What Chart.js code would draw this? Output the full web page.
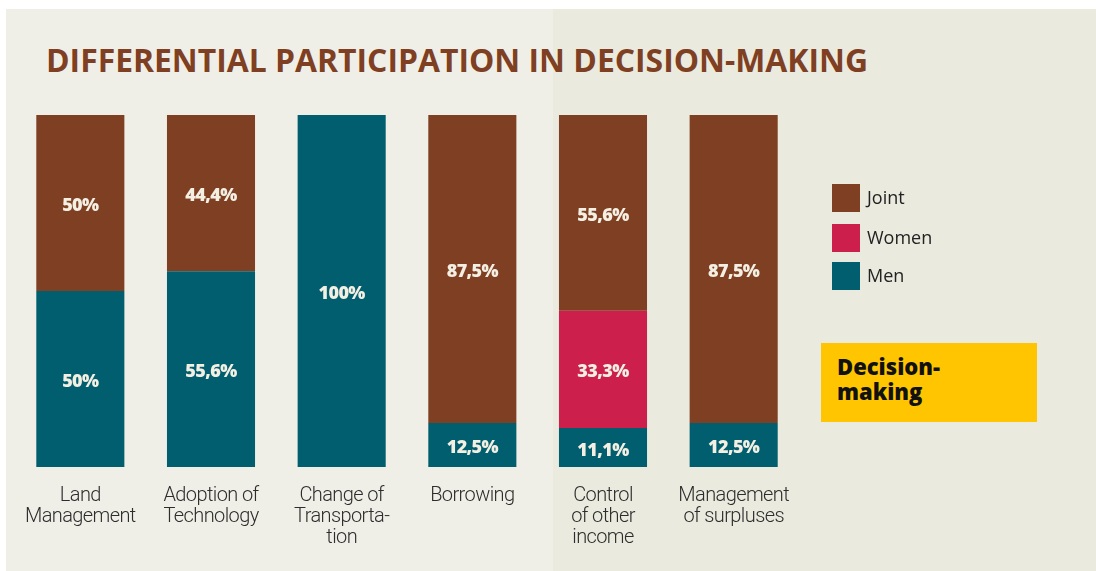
<!DOCTYPE html>
<html>
<head>
<meta charset="utf-8">
<script src="https://cdn.jsdelivr.net/npm/chart.js@4.4.1/dist/chart.umd.min.js"></script>
<style>
  html, body { margin: 0; padding: 0; background: #ffffff; }
  #wrap { position: relative; width: 1096px; height: 571px; overflow: hidden; }
  #panelL { position: absolute; left: 6px; top: 9px; width: 547px; height: 562px; background: #f0efe7; }
  #panelR { position: absolute; left: 553px; top: 9px; width: 543px; height: 562px; background: #ebeadf; }
  #title { position: absolute; left: 46px; top: 40px; font-family: "Open Sans", sans-serif; font-weight: 700;
           font-size: 33px; color: #7f3f22; white-space: nowrap; transform-origin: 0 0; line-height: 40px; }
  #legend { position: absolute; left: 832px; top: 184px; font-family: "Open Sans", sans-serif; font-size: 18px; color: #222; }
  .li { position: absolute; left: 0; width: 200px; height: 28px; }
  .sw { position: absolute; left: 0; top: 0; width: 28px; height: 28px; }
  .lt { position: absolute; left: 35px; top: 0px; line-height: 26px; }
  #dm { position: absolute; left: 821px; top: 343px; width: 216px; height: 79px; background: #ffc600; }
  #dmt { position: absolute; left: 16px; top: 11px; font-family: "Open Sans", sans-serif; font-weight: 800; font-size: 22px;
         line-height: 25px; color: #111; }
  canvas { position: absolute; left: 0; top: 0; }
</style>
</head>
<body>
<div id="wrap">
  <div id="panelL"></div>
  <div id="panelR"></div>
  <div id="title"><span id="tspan">DIFFERENTIAL PARTICIPATION IN DECISION-MAKING</span></div>
  <canvas id="c" width="1096" height="571"></canvas>
  <div id="legend"></div>
  <div id="dm"><div id="dmt">Decision-<br>making</div></div>
</div>
<script>
const categories = [
  ['Land', 'Management'],
  ['Adoption of', 'Technology'],
  ['Change of', 'Transporta-', 'tion'],
  ['Borrowing'],
  ['Control', 'of other', 'income'],
  ['Management', 'of surpluses']
];
const menValues   = [50, 55.6, 100, 12.5, 11.1, 12.5];
const womenValues = [0, 0, 0, 0, 33.3, 0];
const jointValues = [50, 44.4, 0, 87.5, 55.6, 87.5];
const seriesNames = ['Men', 'Women', 'Joint'];
const seriesColors = ['#015e6e', '#cc1f4b', '#7f3f22'];

// title width fit
(function(){
  const t = document.getElementById('title');
  const w = t.getBoundingClientRect().width;
  t.style.transform = 'scaleX(' + (822 / w) + ')';
})();

// legend (Joint, Women, Men)
(function(){
  const lg = document.getElementById('legend');
  const order = [2, 1, 0];
  const tops = [0, 40, 78];
  order.forEach((idx, i) => {
    const d = document.createElement('div');
    d.className = 'li';
    d.style.top = tops[i] + 'px';
    d.innerHTML = '<div class="sw" style="background:' + seriesColors[idx] + '"></div><div class="lt">' + seriesNames[idx] + '</div>';
    lg.appendChild(d);
  });
})();

const labelPlugin = {
  id: 'segLabels',
  afterDatasetsDraw(chart) {
    const ctx = chart.ctx;
    ctx.save();
    ctx.font = '800 18px "Open Sans", sans-serif';
    ctx.fillStyle = '#f3efe3';
    ctx.textAlign = 'center';
    ctx.textBaseline = 'middle';
    chart.data.datasets.forEach((ds, di) => {
      const meta = chart.getDatasetMeta(di);
      meta.data.forEach((bar, i) => {
        const v = ds.data[i];
        if (!v) return;
        const p = bar.getProps(['x', 'y', 'base'], true);
        const cy = (p.y + p.base) / 2 + 3;
        ctx.fillText(String(v).replace('.', ',') + '%', p.x, cy);
      });
    });
    ctx.restore();
  }
};

const tickSpacing = {
  id: 'tickSpacing',
  beforeDraw(chart) { try { chart.ctx.letterSpacing = '-0.6px'; } catch (e) {} },
  afterDraw(chart) { try { chart.ctx.letterSpacing = '0px'; } catch (e) {} }
};

new Chart(document.getElementById('c'), {
  type: 'bar',
  data: {
    labels: categories,
    datasets: [
      { label: seriesNames[0], data: menValues, backgroundColor: seriesColors[0] },
      { label: seriesNames[1], data: womenValues, backgroundColor: seriesColors[1] },
      { label: seriesNames[2], data: jointValues, backgroundColor: seriesColors[2] }
    ]
  },
  options: {
    responsive: false,
    animation: false,
    layout: { padding: { left: 15, right: 297, top: 115, bottom: 5 } },
    datasets: { bar: { categoryPercentage: 1, barPercentage: 0.674, borderWidth: 0 } },
    plugins: { legend: { display: false }, tooltip: { enabled: false }, title: { display: false } },
    scales: {
      x: {
        stacked: true,
        grid: { display: false, drawTicks: false },
        border: { display: false },
        ticks: {
          color: '#2d2d2d',
          padding: 18,
          maxRotation: 0,
          autoSkip: false,
          font: { family: 'Roboto', weight: '300', size: 20, lineHeight: 1.05 }
        }
      },
      y: {
        stacked: true,
        display: false,
        min: 0,
        max: 100
      }
    }
  },
  plugins: [tickSpacing, labelPlugin]
});
</script>
</body>
</html>
